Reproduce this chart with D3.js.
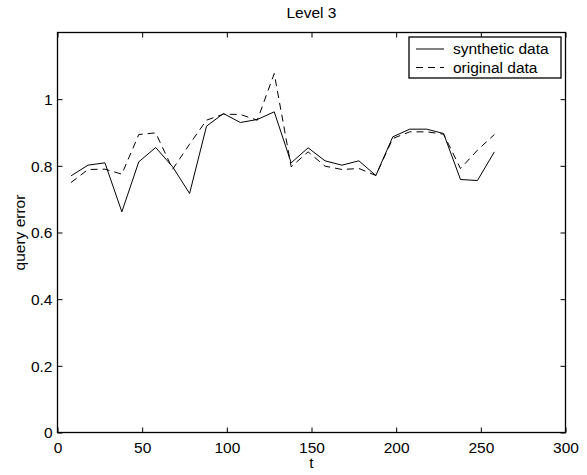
<!DOCTYPE html>
<html>
<head>
<meta charset="utf-8">
<script src="https://cdn.jsdelivr.net/npm/d3@7"></script>
<style>
  html, body { margin: 0; padding: 0; background: #fff; }
  text { font-family: "Liberation Sans", Arial, Helvetica, sans-serif; fill: #000; }
</style>
</head>
<body>
<svg id="chart" width="587" height="475"></svg>
<script>
const titleText = "Level 3";
const xLabel = "t";
const yLabel = "query error";
const tValues = [8, 18, 28, 38, 48, 58, 68, 78, 88, 98, 108, 118, 128, 138, 148, 158, 168, 178, 188, 198, 208, 218, 228, 238, 248, 258];
const syntheticData = [0.770, 0.802, 0.809, 0.662, 0.812, 0.855, 0.797, 0.717, 0.919, 0.957, 0.930, 0.939, 0.962, 0.809, 0.854, 0.815, 0.802, 0.815, 0.771, 0.887, 0.910, 0.910, 0.897, 0.759, 0.756, 0.842];
const originalData = [0.750, 0.789, 0.790, 0.775, 0.894, 0.899, 0.790, 0.865, 0.937, 0.955, 0.954, 0.937, 1.077, 0.797, 0.842, 0.799, 0.789, 0.792, 0.771, 0.882, 0.902, 0.902, 0.895, 0.792, 0.847, 0.894];
const seriesNames = ["synthetic data", "original data"];
const xTicks = [0, 50, 100, 150, 200, 250, 300];
const yTicks = [0, 0.2, 0.4, 0.6, 0.8, 1];

const svg = d3.select("#chart");
const L = 57.5, R = 565.5, T = 32.5, B = 432.5;
const x = d3.scaleLinear().domain([0, 300]).range([L, R]);
const y = d3.scaleLinear().domain([0, 1.2]).range([B, T]);
const fs = 15.5;

const gB = svg.append("g").attr("transform", `translate(0,${B})`)
  .call(d3.axisBottom(x).tickValues(xTicks).tickSize(-5).tickPadding(9).tickFormat(d => d));
const gT = svg.append("g").attr("transform", `translate(0,${T})`)
  .call(d3.axisTop(x).tickValues(xTicks).tickSize(-5).tickFormat(""));
const gL = svg.append("g").attr("transform", `translate(${L},0)`)
  .call(d3.axisLeft(y).tickValues(yTicks).tickSize(-5).tickPadding(9).tickFormat(d => d));
const gR = svg.append("g").attr("transform", `translate(${R},0)`)
  .call(d3.axisRight(y).tickValues(yTicks).tickSize(-5).tickFormat(""));
[gB, gT, gL, gR].forEach(g => {
  g.select(".domain").remove();
  g.selectAll("line").attr("stroke", "#000").attr("stroke-width", 1);
  g.selectAll("text").style("font-size", fs + "px").attr("font-family", null);
});
gB.selectAll("text").attr("dy", "0.71em");
gL.selectAll("text").attr("dx", "4").attr("dy", "0.35em");

svg.append("rect").attr("x", L).attr("y", T).attr("width", R - L).attr("height", B - T)
  .attr("fill", "none").attr("stroke", "#000").attr("stroke-width", 1.3);

const line = d3.line().x((d, i) => x(tValues[i])).y(d => y(d));
svg.append("path").datum(syntheticData).attr("d", line)
  .attr("fill", "none").attr("stroke", "#000").attr("stroke-width", 1);
svg.append("path").datum(originalData).attr("d", line)
  .attr("fill", "none").attr("stroke", "#000").attr("stroke-width", 1).attr("stroke-dasharray", "7,5");

svg.append("text").attr("x", (L + R) / 2).attr("y", 18).attr("text-anchor", "middle")
  .style("font-size", fs + "px").text(titleText);
svg.append("text").attr("x", (L + R) / 2).attr("y", 468).attr("text-anchor", "middle")
  .style("font-size", fs + "px").text(xLabel);
svg.append("text").attr("transform", `translate(25,${(T + B) / 2}) rotate(-90)`)
  .attr("text-anchor", "middle").style("font-size", fs + "px").text(yLabel);

const lg = svg.append("g");
lg.append("rect").attr("x", 409).attr("y", 37).attr("width", 152).attr("height", 41)
  .attr("fill", "#fff").attr("stroke", "#000").attr("stroke-width", 1.3);
const dashes = [null, "7,5"];
seriesNames.forEach((name, i) => {
  const yy = 49 + i * 18.5;
  lg.append("line").attr("x1", 416).attr("x2", 444).attr("y1", yy).attr("y2", yy)
    .attr("stroke", "#000").attr("stroke-width", 1).attr("stroke-dasharray", dashes[i]);
  lg.append("text").attr("x", 453).attr("y", yy).attr("dy", "0.35em")
    .style("font-size", fs + "px").text(name);
});
</script>
</body>
</html>
